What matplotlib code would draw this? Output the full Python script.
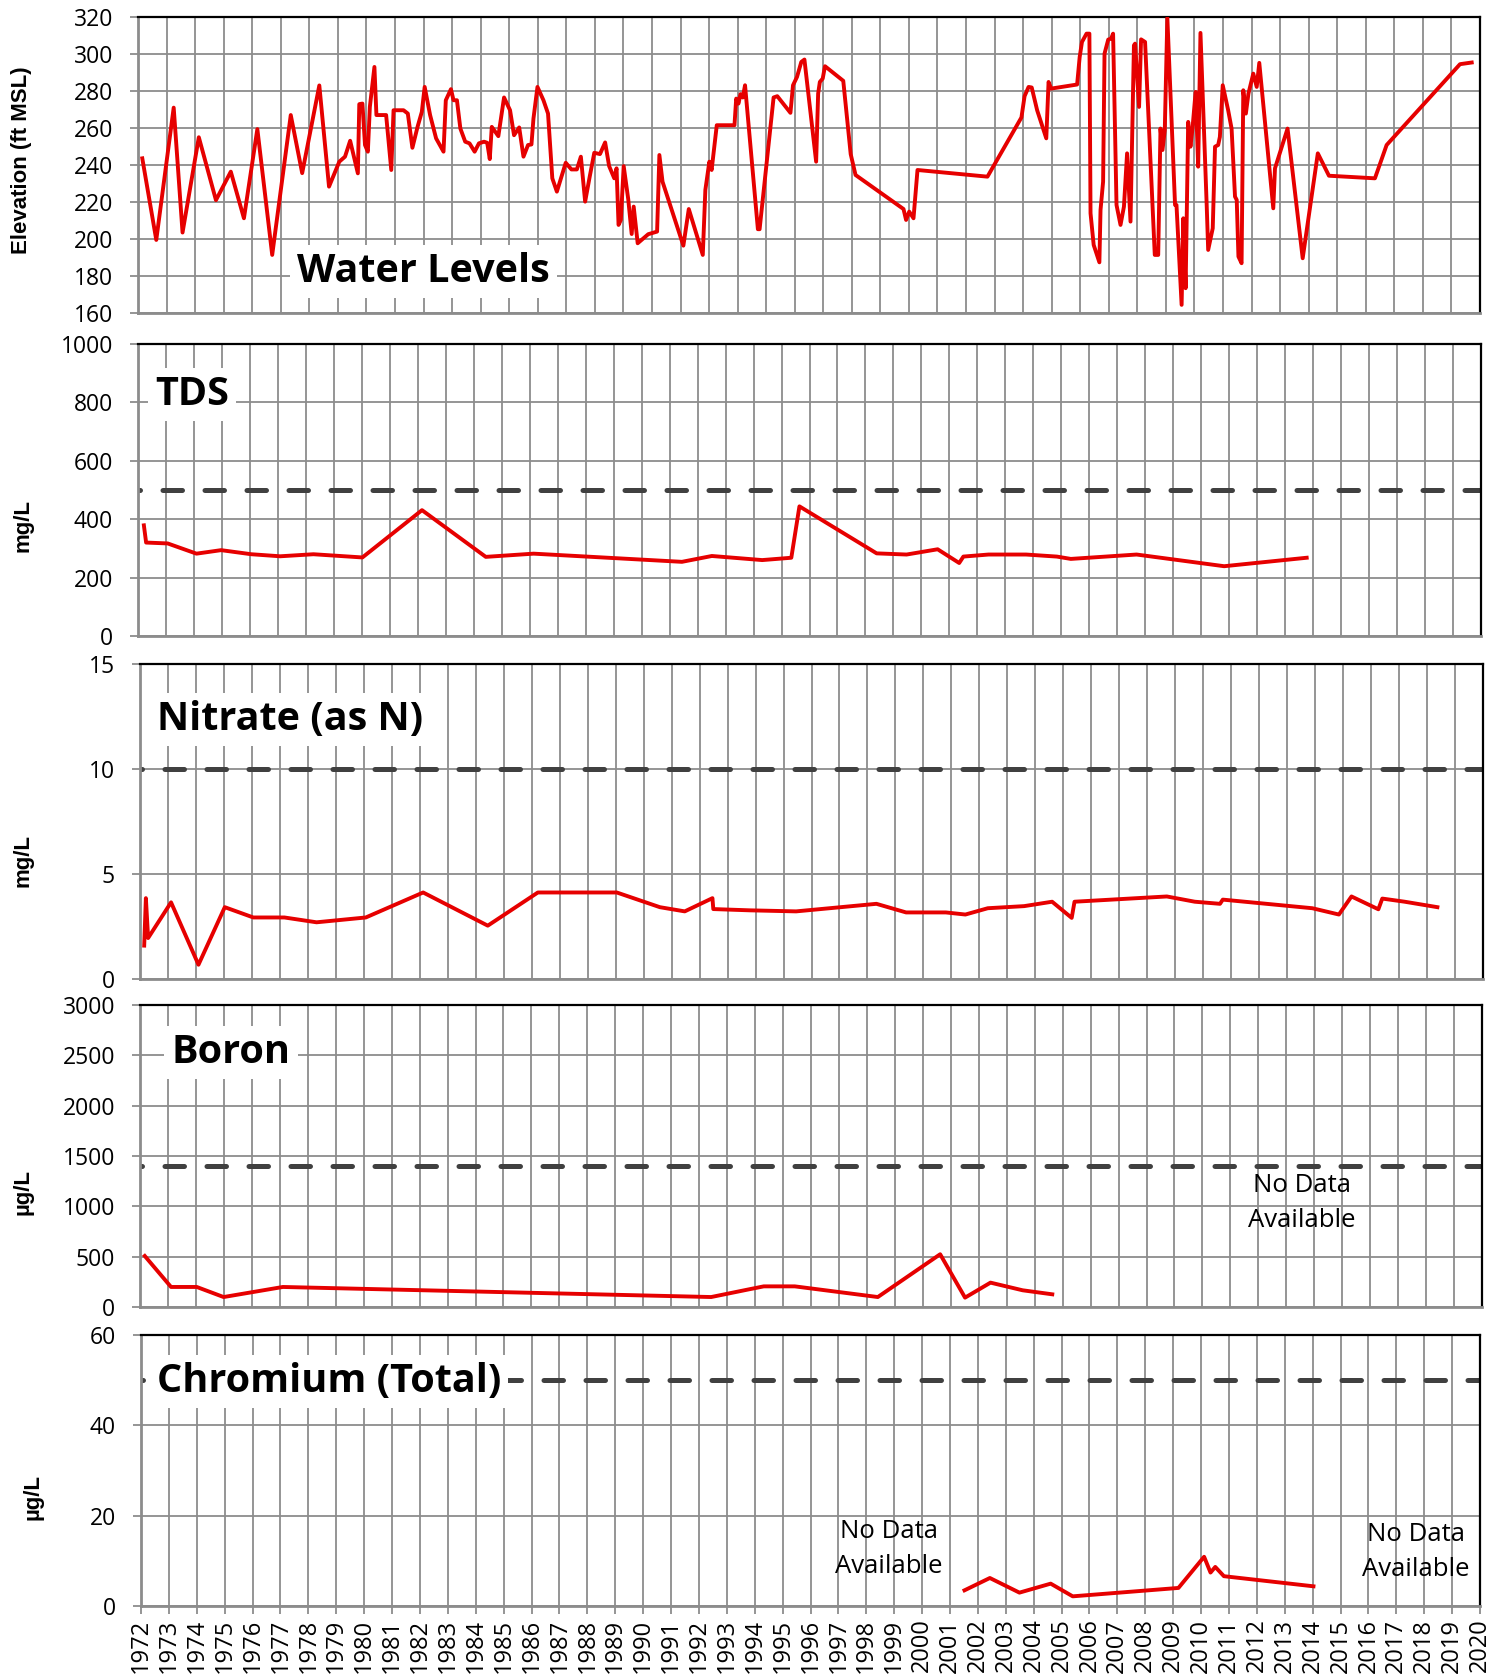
import matplotlib

matplotlib.use("Agg")
import matplotlib.pyplot as plt
import numpy as np

plt.rcParams["font.family"] = ["Open Sans", "DejaVu Sans"]

W, H = 1502, 1676

# Water levels (ft MSL)
wl_year = [
    1972.15, 1972.64, 1973.25, 1973.56, 1974.13, 1974.73, 1975.25, 1975.71,
    1976.18, 1976.70, 1977.35, 1977.75, 1978.35, 1978.69, 1979.05, 1979.25,
    1979.43, 1979.70, 1979.75, 1979.86, 1979.95, 1980.05, 1980.12, 1980.28,
    1980.35, 1980.69, 1980.87, 1980.95, 1981.30, 1981.45, 1981.61, 1981.79,
    1981.94, 1982.04, 1982.23, 1982.44, 1982.70, 1982.78, 1982.96, 1983.05,
    1983.17, 1983.29, 1983.46, 1983.61, 1983.79, 1983.94, 1984.12, 1984.23,
    1984.32, 1984.39, 1984.62, 1984.82, 1985.03, 1985.17, 1985.35, 1985.50,
    1985.66, 1985.78, 1985.85, 1985.99, 1986.20, 1986.36, 1986.51, 1986.67,
    1986.98, 1987.18, 1987.37, 1987.51, 1987.66, 1987.82, 1987.98, 1988.18,
    1988.36, 1988.50, 1988.68, 1988.76, 1988.83, 1988.91, 1989.01, 1989.17,
    1989.29, 1989.36, 1989.50, 1989.87, 1990.18, 1990.26, 1990.37, 1991.10,
    1991.29, 1991.78, 1991.87, 1992.01, 1992.09, 1992.27, 1992.89, 1992.95,
    1993.03, 1993.10, 1993.18, 1993.26, 1993.71, 1993.77, 1994.26, 1994.39,
    1994.85, 1994.94, 1995.08, 1995.23, 1995.34, 1995.75, 1995.82, 1995.88,
    1995.98, 1996.06, 1996.70, 1996.96, 1997.13, 1998.81, 1998.90, 1999.01,
    1999.16, 1999.30, 2001.75, 2002.94, 2003.05, 2003.19, 2003.30, 2003.49,
    2003.81, 2003.89, 2003.98, 2004.89, 2004.98, 2005.06, 2005.22, 2005.32,
    2005.36, 2005.47, 2005.67, 2005.71, 2005.80, 2005.85, 2005.98, 2006.08,
    2006.15, 2006.27, 2006.41, 2006.53, 2006.64, 2006.76, 2006.88, 2006.92,
    2007.06, 2007.13, 2007.27, 2007.61, 2007.73, 2007.81, 2007.88, 2007.96,
    2008.05, 2008.32, 2008.37, 2008.55, 2008.61, 2008.69, 2008.78, 2008.86,
    2008.93, 2009.04, 2009.13, 2009.21, 2009.43, 2009.48, 2009.64, 2009.72,
    2009.83, 2009.89, 2009.99, 2010.18, 2010.30, 2010.42, 2010.48, 2010.54,
    2010.65, 2010.71, 2010.80, 2010.89, 2011.06, 2011.18, 2011.27, 2011.76,
    2011.82, 2012.26, 2012.79, 2013.32, 2013.71, 2015.32, 2015.73, 2018.30,
    2018.71,
]
wl_elev = [
    243.6, 199.5, 271.0, 203.5, 255.0, 221.0, 236.4, 211.2,
    259.4, 191.4, 267.0, 235.6, 283.0, 228.3, 241.8, 244.5,
    253.1, 235.5, 272.9, 273.2, 250.8, 247.2, 271.4, 293.0,
    267.0, 267.0, 237.3, 269.6, 269.6, 267.8, 249.3, 260.6,
    268.7, 282.2, 267.0, 254.4, 247.2, 275.0, 281.0, 275.0,
    275.0, 259.7, 252.6, 251.7, 247.2, 251.7, 252.6, 252.0,
    243.2, 260.6, 255.6, 276.5, 269.6, 256.1, 260.3, 244.5,
    250.8, 251.1, 265.1, 282.2, 275.0, 267.8, 232.8, 225.6,
    241.2, 237.6, 237.6, 244.5, 220.2, 233.7, 246.6, 245.9,
    252.2, 239.4, 232.8, 238.2, 207.6, 210.3, 239.4, 221.4,
    202.7, 217.5, 197.7, 202.6, 204.0, 245.4, 231.0, 196.4,
    216.2, 191.4, 226.5, 241.8, 237.3, 261.5, 261.5, 275.9,
    273.2, 278.3, 276.5, 283.1, 205.3, 205.3, 276.5, 277.2,
    268.2, 283.1, 287.6, 295.7, 297.0, 241.8, 278.6, 284.9,
    286.7, 293.4, 285.5, 245.9, 234.6, 216.2, 210.3, 214.8,
    211.2, 237.3, 233.7, 265.7, 277.2, 282.2, 281.9, 269.6,
    254.4, 284.9, 281.3, 283.5, 298.4, 306.5, 311.0, 311.0,
    213.9, 196.8, 187.4, 215.7, 231.0, 300.2, 307.8, 308.3,
    311.0, 218.4, 207.6, 217.5, 246.3, 209.4, 304.7, 305.6,
    271.4, 307.9, 306.5, 191.4, 191.4, 259.7, 248.1, 258.8,
    319.6, 218.4, 218.4, 164.4, 211.2, 173.4, 263.3, 249.9,
    259.7, 279.5, 239.1, 311.4, 217.5, 194.1, 205.8, 249.9,
    250.8, 255.2, 283.1, 269.6, 259.7, 222.9, 221.1, 190.5,
    186.9, 280.4, 267.8, 278.6, 289.4, 282.2, 295.2, 216.6,
    238.2, 259.7, 189.6, 246.3, 234.2, 232.8, 250.8, 294.5,
    295.4,
]

# TDS (mg/L)
tds_year = [1972.21, 1972.29, 1973.06, 1974.09, 1974.97, 1976.05, 1977.08,
            1978.27, 1980.02, 1982.15, 1984.43, 1986.14, 1991.44, 1992.51,
            1994.31, 1995.35, 1995.64, 1998.40, 1999.47, 2000.58, 2001.35,
            2001.50, 2002.40, 2003.74, 2004.84, 2005.34, 2007.69, 2010.82,
            2013.77]
tds_val = [379, 320, 317, 282, 294, 280, 273, 280, 269, 431, 271, 282, 254,
           274, 260, 268, 444, 283, 279, 297, 250, 272, 279, 279, 272, 264,
           279, 239, 268]

# Nitrate as N (mg/L)
no3_year = [1972.15, 1972.21, 1972.29, 1973.11, 1974.09, 1975.03, 1976.05,
            1977.16, 1978.31, 1980.07, 1982.12, 1984.43, 1986.22, 1989.04,
            1990.58, 1991.47, 1992.46, 1992.49, 1993.79, 1995.45, 1998.32,
            1999.38, 2000.80, 2001.50, 2002.30, 2003.60, 2004.60, 2005.30,
            2005.40, 2008.70, 2009.70, 2010.60, 2010.70, 2013.90, 2014.85,
            2015.30, 2016.26, 2016.40, 2017.20, 2018.37]
no3_val = [1.59, 3.85, 1.95, 3.65, 0.68, 3.42, 2.93, 2.93, 2.70, 2.93, 4.12,
           2.54, 4.12, 4.12, 3.42, 3.22, 3.85, 3.33, 3.27, 3.22, 3.58, 3.17,
           3.17, 3.07, 3.37, 3.47, 3.68, 2.91, 3.68, 3.93, 3.68, 3.58, 3.78,
           3.37, 3.07, 3.93, 3.32, 3.83, 3.68, 3.42]

# Boron (ug/L)
bor_year = [1972.17, 1973.11, 1974.03, 1974.99, 1977.11, 1992.43, 1993.79,
            1994.31, 1995.42, 1998.39, 2000.62, 2001.51, 2002.42, 2003.57,
            2004.63]
bor_val = [507, 199, 199, 99, 199, 99, 176, 205, 205, 99, 524, 93, 242, 166,
           126]

# Chromium, total (ug/L)
cr_year = [2001.52, 2002.43, 2003.49, 2004.61, 2005.40, 2009.19, 2010.11,
           2010.34, 2010.51, 2010.82, 2014.03]
cr_val = [3.47, 6.2, 2.96, 4.95, 2.14, 4.0, 10.9, 7.4, 8.65, 6.6, 4.36]

# regulatory limits drawn as dashed lines
tds_limit = 500
no3_limit = 10
bor_limit = 1400
cr_limit = 50

RED = "#e60000"
GRID = "#8c8c8c"
DASH = "#404040"


def add_panel(fig, left, top, right, bottom):
    """Axes placed by pixel edges of the output image."""
    return fig.add_axes([left / W, 1 - bottom / H, (right - left) / W,
                         (bottom - top) / H])


def style_panel(ax, xmax, ylim, ystep, show_x=False):
    ax.set_xlim(1972, xmax)
    ax.set_ylim(*ylim)
    ax.set_xticks(range(1972, xmax + 1))
    ax.set_yticks(np.arange(ylim[0], ylim[1] + ystep / 2, ystep))
    ax.grid(True, color=GRID, linewidth=1.3)
    ax.set_axisbelow(True)
    for side in ("top", "right"):
        ax.spines[side].set_color("black")
        ax.spines[side].set_linewidth(1.6)
    for side in ("left", "bottom"):
        ax.spines[side].set_color(GRID)
        ax.spines[side].set_linewidth(2.0)
    ax.tick_params(axis="y", length=6, width=1.3, color=GRID, labelsize=16.5,
                   pad=12)
    if show_x:
        ax.set_xticklabels([str(y) for y in range(1972, xmax + 1)])
        ax.tick_params(axis="x", length=6, width=1.3, color=GRID,
                       labelsize=17, labelrotation=90, pad=3)
    else:
        ax.tick_params(axis="x", length=0, labelbottom=False)


def limit_line(ax, value):
    ax.axhline(value, color=DASH, linewidth=3.6, linestyle=(3.5, (3.9, 4.5)),
               dash_capstyle="round", zorder=2)


def fig_text(fig, x, y, s, **kw):
    fig.text(x / W, 1 - y / H, s, **kw)


fig = plt.figure(figsize=(W / 100, H / 100), dpi=100)

ax_wl = add_panel(fig, 138, 17, 1480, 313)
ax_tds = add_panel(fig, 138, 344, 1481, 636)
ax_no3 = add_panel(fig, 140, 664, 1483, 979)
ax_bor = add_panel(fig, 140, 1005, 1482, 1307)
ax_cr = add_panel(fig, 141, 1335, 1480, 1606)

style_panel(ax_wl, 2019, (160, 320), 20)
style_panel(ax_tds, 2020, (0, 1000), 200)
style_panel(ax_no3, 2020, (0, 15), 5)
style_panel(ax_bor, 2020, (0, 3000), 500)
style_panel(ax_cr, 2020, (0, 60), 20, show_x=True)

ax_wl.plot(wl_year, wl_elev, color=RED, linewidth=2.8, zorder=3)
ax_tds.plot(tds_year, tds_val, color=RED, linewidth=2.8, zorder=3)
ax_no3.plot(no3_year, no3_val, color=RED, linewidth=2.8, zorder=3)
ax_bor.plot(bor_year, bor_val, color=RED, linewidth=2.8, zorder=3)
ax_cr.plot(cr_year, cr_val, color=RED, linewidth=2.8, zorder=3)

limit_line(ax_tds, tds_limit)
limit_line(ax_no3, no3_limit)
limit_line(ax_bor, bor_limit)
limit_line(ax_cr, cr_limit)

# "No Data Available" notes
note = dict(fontsize=18.5, ha="center", va="baseline", color="black")
ax_bor.text(2013.55, 1140, "No Data", **note)
ax_bor.text(2013.55, 793, "Available", **note)
ax_cr.text(1998.8, 15.0, "No Data", **note)
ax_cr.text(1998.8, 7.25, "Available", **note)
ax_cr.text(2017.7, 14.5, "No Data", **note)
ax_cr.text(2017.7, 6.6, "Available", **note)

# panel titles in white boxes
title_kw = dict(fontsize=28.5, fontweight="bold", ha="center", va="baseline",
                bbox=dict(facecolor="white", edgecolor="none", pad=5))
fig_text(fig, 423, 282, "Water Levels", **title_kw)
fig_text(fig, 192, 405, "TDS", **title_kw)
fig_text(fig, 290, 730, "Nitrate (as N)", **title_kw)
fig_text(fig, 231, 1063, "Boron", **title_kw)
fig_text(fig, 329, 1392, "Chromium (Total)", **title_kw)

# unit labels
unit_kw = dict(fontsize=16, fontweight="bold", family="Liberation Sans",
               rotation=90, ha="center", va="center")
fig_text(fig, 22, 160, "Elevation (ft MSL)", **unit_kw)
fig_text(fig, 23, 526, "mg/L", **unit_kw)
fig_text(fig, 23, 860, "mg/L", **unit_kw)
fig_text(fig, 23, 1192, "µg/L", **unit_kw)
fig_text(fig, 33, 1497, "µg/L", **unit_kw)

fig.savefig("out.png", dpi=100)
plt.close(fig)
